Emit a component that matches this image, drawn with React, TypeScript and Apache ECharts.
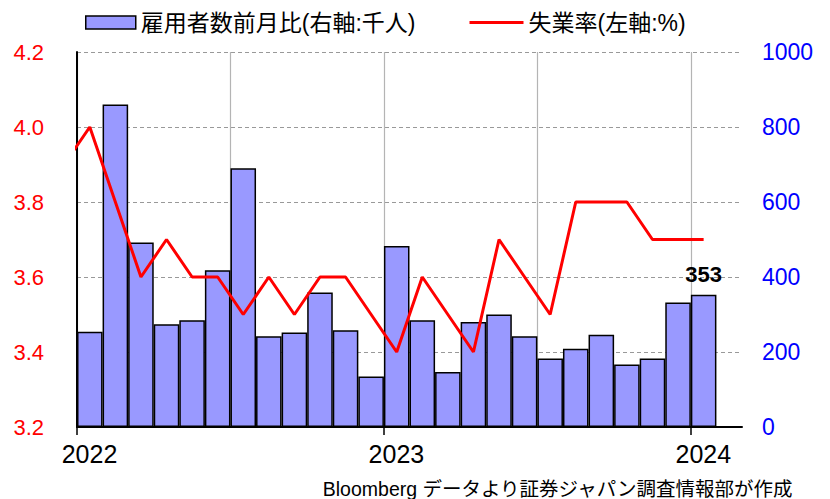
import React, { useEffect, useRef } from "react";
import * as echarts from "echarts";

// Months: Jan 2022 .. Jan 2024
const months = [
  "2022-01", "2022-02", "2022-03", "2022-04", "2022-05", "2022-06",
  "2022-07", "2022-08", "2022-09", "2022-10", "2022-11", "2022-12",
  "2023-01", "2023-02", "2023-03", "2023-04", "2023-05", "2023-06",
  "2023-07", "2023-08", "2023-09", "2023-10", "2023-11", "2023-12",
  "2024-01",
];
// Nonfarm payrolls change (thousands, right axis)
const payrolls = [
  254, 860, 492, 274, 285, 418, 690, 242, 252, 359, 258, 135,
  483, 285, 147, 280, 300, 242, 183, 209, 246, 167, 183, 332,
  353,
];
// Unemployment rate (%, left axis), starting with Dec 2021
const unempMonths = ["2021-12", ...months];
const unemployment = [
  3.9,
  4.0, 3.8, 3.6, 3.7, 3.6, 3.6, 3.5, 3.6, 3.5, 3.6, 3.6, 3.5,
  3.4, 3.6, 3.5, 3.4, 3.7, 3.6, 3.5, 3.8, 3.8, 3.8, 3.7, 3.7,
  3.7,
];
const yearTicks = [0, 12, 24];
const yearLabels = ["2022", "2023", "2024"];
const leftTicks = { min: 3.2, max: 4.2, interval: 0.2 };
const rightTicks = { min: 0, max: 1000, interval: 200 };
const legendNames = ["雇用者数前月比(右軸:千人)", "失業率(左軸:%)"];
const sourceText = "Bloomberg データより証券ジャパン調査情報部が作成";

const monthIndex = (m: string) => {
  const [y, mo] = m.split("-").map(Number);
  return (y - 2022) * 12 + (mo - 1);
};

export default function App() {
  const ref = useRef<HTMLDivElement>(null);
  useEffect(() => {
    if (!ref.current) return;
    const chart = echarts.init(ref.current, undefined, { renderer: "svg" });
    const font = "'Liberation Sans', 'Noto Sans CJK JP', sans-serif";
    const gridW = 830 - 77 - 88;
    const barW = gridW / 26;
    const lastIdx = payrolls.length - 1;
    const legendText = { fontSize: 23, color: "#000", fontFamily: font };
    chart.setOption({
      animation: false,
      textStyle: { fontFamily: font },
      grid: { left: 77, right: 88, top: 52, bottom: 72, containLabel: false },
      legend: [
        {
          left: 80,
          top: 6,
          itemWidth: 50,
          itemHeight: 13,
          textStyle: legendText,
          data: [
            { name: legendNames[0], itemStyle: { color: "#9999ff", borderColor: "#000", borderWidth: 1.5 }, icon: "rect" },
          ],
        },
        {
          left: 463,
          top: 6,
          itemWidth: 54,
          itemHeight: 13,
          textStyle: legendText,
          data: [
            { name: legendNames[1], itemStyle: { opacity: 0 }, lineStyle: { color: "#ff0000", width: 3 } },
          ],
        },
      ],
      xAxis: [
        {
          type: "value",
          min: 0,
          max: 26,
          interval: 12,
          axisLine: { show: true, lineStyle: { color: "#000", width: 2 } },
          axisTick: { show: true, length: 8, lineStyle: { color: "#000", width: 1.5 }, customValues: yearTicks },
          axisLabel: {
            show: true,
            customValues: yearTicks,
            fontSize: 25,
            color: "#000",
            margin: 14,
            padding: [0, 0, 0, 25],
            formatter: (v: number) => {
              const i = yearTicks.indexOf(Math.round(v));
              return i >= 0 ? yearLabels[i] : "";
            },
          },
          splitLine: { show: false },
        },
        {
          type: "value",
          min: 0,
          max: 26,
          interval: 6,
          position: "top",
          axisLine: { show: false },
          axisTick: { show: false },
          axisLabel: { show: false },
          splitLine: { show: true, showMaxLine: false, lineStyle: { color: "#b4b4b4", width: 1.2 } },
        },
      ],
      yAxis: [
        {
          type: "value",
          position: "left",
          ...leftTicks,
          axisLine: { show: true, lineStyle: { color: "#000", width: 2 } },
          axisTick: { show: false },
          axisLabel: {
            color: "#ff0000",
            fontSize: 22,
            margin: 33,
            formatter: (v: number) => v.toFixed(1),
          },
          splitLine: { show: true, lineStyle: { color: "#999", type: [4, 3], width: 1 } },
        },
        {
          type: "value",
          position: "right",
          ...rightTicks,
          axisLine: { show: false },
          axisTick: { show: false },
          axisLabel: { color: "#0000ff", fontSize: 23, margin: 20, formatter: (v: number) => String(v) },
          splitLine: { show: false },
        },
      ],
      series: [
        {
          name: legendNames[0],
          type: "bar",
          xAxisIndex: 0,
          yAxisIndex: 1,
          barWidth: barW,
          itemStyle: { color: "#9999ff", borderColor: "#000", borderWidth: 1.5 },
          data: payrolls.map((v, i) => {
            const item: any = { value: [monthIndex(months[i]) + 0.5, v] };
            if (i === lastIdx) {
              item.label = {
                show: true,
                position: "top",
                distance: 9,
                fontSize: 22,
                fontWeight: "bold",
                color: "#000",
                formatter: String(v),
              };
            }
            return item;
          }),
          z: 2,
        },
        {
          name: legendNames[1],
          type: "line",
          xAxisIndex: 0,
          yAxisIndex: 0,
          symbol: "none",
          clip: true,
          lineStyle: { color: "#ff0000", width: 3 },
          itemStyle: { color: "#ff0000" },
          data: unemployment.map((v, i) => [monthIndex(unempMonths[i]) + 0.5, v]),
          z: 3,
        },
      ],
      graphic: [
        {
          type: "text",
          right: 37,
          top: 479,
          style: { text: sourceText, fontSize: 19.5, fill: "#000", fontFamily: font },
        },
      ],
    });
    return () => chart.dispose();
  }, []);
  return (
    <div
      ref={ref}
      style={{ position: "fixed", left: 0, top: 0, width: 830, height: 499, background: "#fff" }}
    />
  );
}
